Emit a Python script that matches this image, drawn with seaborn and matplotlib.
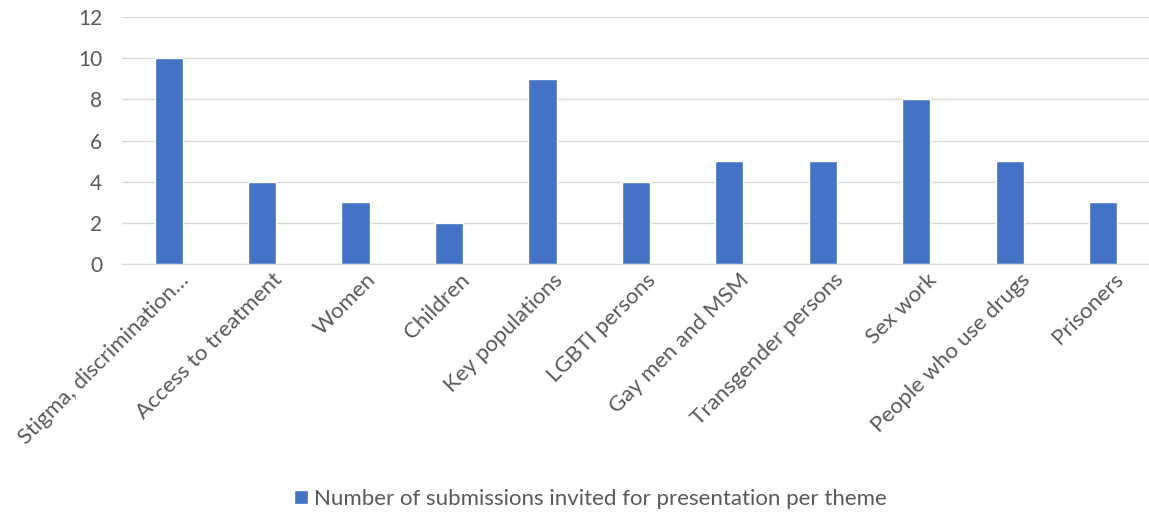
import matplotlib
matplotlib.use('Agg')
import matplotlib.pyplot as plt
import matplotlib.transforms as mtransforms
import seaborn as sns
import pandas as pd

# Data
themes = ['Stigma, discrimination…', 'Access to treatment', 'Women', 'Children',
          'Key populations', 'LGBTI persons', 'Gay men and MSM', 'Transgender persons',
          'Sex work', 'People who use drugs', 'Prisoners']
counts = [10, 4, 3, 2, 9, 4, 5, 5, 8, 5, 3]
series_name = 'Number of submissions invited for presentation per theme'

df = pd.DataFrame({'theme': themes, 'count': counts, 'series': series_name})

sns.set_style('white')
plt.rcParams['font.family'] = ['Lato', 'DejaVu Sans']

bar_color = '#4472C4'
text_color = '#595959'

fig = plt.figure(figsize=(11.49, 5.13), dpi=100)
ax = fig.add_axes([0.106, 0.485, 0.895, 0.482])

sns.barplot(data=df, x='theme', y='count', hue='series', palette=[bar_color],
            width=0.3, saturation=1, ax=ax, legend=True)

ax.set_ylim(0, 12)
ax.set_yticks(range(0, 13, 2))
ax.yaxis.grid(True, color='#D9D9D9', linewidth=1)
ax.set_axisbelow(True)
for s in ['top', 'right', 'left']:
    ax.spines[s].set_visible(False)
ax.spines['bottom'].set_color('#D9D9D9')
ax.set_xlabel('')
ax.set_ylabel('')
ax.tick_params(axis='y', length=0, colors=text_color, labelsize=15, pad=14)
ax.tick_params(axis='x', length=0, colors=text_color, labelsize=16, pad=4)

# shift rotated labels a little to the right, like Excel does
shift = mtransforms.ScaledTranslation(10 / 100, 0, fig.dpi_scale_trans)
for lbl in ax.get_xticklabels():
    lbl.set_rotation(45)
    lbl.set_ha('right')
    lbl.set_rotation_mode('anchor')
    lbl.set_transform(lbl.get_transform() + shift)

leg = ax.legend(loc='center', bbox_to_anchor=(0.456, -0.95), frameon=False,
                fontsize=16, handlelength=0.6, handleheight=0.6, handletextpad=0.3)
for t in leg.get_texts():
    t.set_color(text_color)

fig.savefig('out.png', dpi=100)
